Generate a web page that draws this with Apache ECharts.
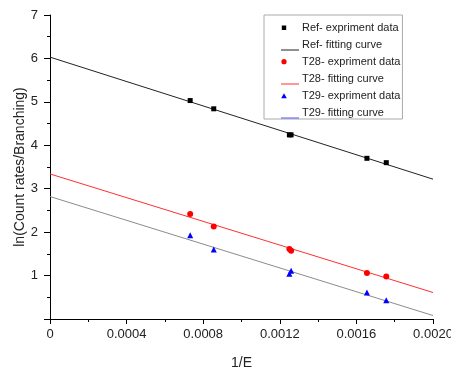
<!DOCTYPE html>
<html>
<head>
<meta charset="utf-8">
<script src="https://cdn.jsdelivr.net/npm/echarts@6/dist/echarts.min.js"></script>
<style>html,body{margin:0;padding:0;background:#fff}#c{width:451px;height:371px}</style>
</head>
<body>
<div id="c"></div>
<script>
// Data
const invE = [0.000732, 0.000855, 0.001250, 0.001259, 0.001655, 0.001756];
const refData = [5.03, 4.84, 4.24, 4.24, 3.70, 3.60];
const t28Data = [2.42, 2.13, 1.61, 1.57, 1.06, 0.98];
const t29Data = [1.93, 1.60, 1.04, 1.11, 0.61, 0.43];
const fitX = [0, 0.002];
const refFit = [6.03, 3.22];
const t28Fit = [3.34, 0.61];
const t29Fit = [2.82, 0.08];
const xTicks = ['0', '0.0004', '0.0008', '0.0012', '0.0016', '0.0020'];
const yTicks = ['', '1', '2', '3', '4', '5', '6', '7'];
const names = ['Ref- expriment data', 'Ref- fitting curve', 'T28- expriment data', 'T28- fitting curve', 'T29- expriment data', 'T29- fitting curve'];

const pair = (xs, ys) => xs.map((x, i) => [x, ys[i]]);
const font = 'Liberation Sans, Arial, sans-serif';

const iconSquare = 'path://M0,0L0,0Z M0.8,3.5L5.2,3.5L5.2,7.9L0.8,7.9Z M18,12L18,12Z';
const iconCircle = 'path://M0,0L0,0Z M5.6,5.7A2.6,2.6 0 1 1 0.4,5.7A2.6,2.6 0 1 1 5.6,5.7Z M18,12L18,12Z';
const iconTri = 'path://M0,0L0,0Z M3,3.2L5.8,8.2L0.2,8.2Z M18,12L18,12Z';
const iconLine = 'path://M0,0L0,0Z M0,10.5L18,10.5L18,11.6L0,11.6Z M18,12L18,12Z';

const chart = echarts.init(document.getElementById('c'), null, {renderer: 'canvas'});
chart.setOption({
  animation: false,
  backgroundColor: '#fff',
  textStyle: {fontFamily: font},
  grid: {left: 50, right: 18, top: 15, bottom: 52, containLabel: false, outerBoundsMode: 'none'},
  legend: {
    orient: 'vertical',
    left: 264, top: 15,
    padding: [7, 2, 0, 17],
    itemWidth: 18, itemHeight: 12, itemGap: 5,
    borderColor: '#aaa', borderWidth: 1,
    textStyle: {fontSize: 11, color: '#222', fontFamily: font, padding: [0, 0, 0, -2]},
    data: [
      {name: names[0], icon: iconSquare, itemStyle: {color: '#000', borderWidth: 0}},
      {name: names[1], icon: iconLine, itemStyle: {color: '#222', borderWidth: 0}},
      {name: names[2], icon: iconCircle, itemStyle: {color: '#ff0000', borderWidth: 0}},
      {name: names[3], icon: iconLine, itemStyle: {color: '#ff3030', borderWidth: 0}},
      {name: names[4], icon: iconTri, itemStyle: {color: '#0000ff', borderWidth: 0}},
      {name: names[5], icon: iconLine, itemStyle: {color: '#5555ff', borderWidth: 0}}
    ]
  },
  xAxis: {
    type: 'value', min: 0, max: 0.002, interval: 0.0004,
    name: '1/E', nameLocation: 'middle', nameGap: 37, nameMoveOverlap: false,
    nameTextStyle: {fontSize: 14, color: '#222', fontFamily: font},
    axisLine: {onZero: false, lineStyle: {color: '#000', width: 1}},
    axisTick: {show: true, inside: false, length: 5, lineStyle: {color: '#000'}},
    minorTick: {show: true, splitNumber: 2, length: 3, lineStyle: {color: '#000'}},
    splitLine: {show: false},
    axisLabel: {fontSize: 13, color: '#222', margin: 9, fontFamily: font,
      formatter: v => xTicks[Math.round(v / 0.0004)]}
  },
  yAxis: {
    type: 'value', min: 0, max: 7, interval: 1,
    name: 'ln(Count rates/Branching)', nameLocation: 'middle', nameGap: 23, nameMoveOverlap: false,
    nameTextStyle: {fontSize: 14, color: '#222', fontFamily: font},
    axisLine: {show: true, onZero: false, lineStyle: {color: '#000', width: 1}},
    axisTick: {show: true, inside: false, length: 6, lineStyle: {color: '#000'}},
    minorTick: {show: true, splitNumber: 2, length: 3, lineStyle: {color: '#000'}},
    splitLine: {show: false},
    axisLabel: {fontSize: 13, color: '#222', margin: 12, fontFamily: font,
      formatter: v => yTicks[Math.round(v)]}
  },
  series: [
    {name: names[1], type: 'line', data: pair(fitX, refFit), showSymbol: false, symbol: 'none',
      lineStyle: {color: '#222', width: 1}, itemStyle: {color: '#222'}, z: 2},
    {name: names[3], type: 'line', data: pair(fitX, t28Fit), showSymbol: false, symbol: 'none',
      lineStyle: {color: '#ff3030', width: 1}, itemStyle: {color: '#ff3030'}, z: 2},
    {name: names[5], type: 'line', data: pair(fitX, t29Fit), showSymbol: false, symbol: 'none',
      lineStyle: {color: '#8c8c8c', width: 1}, itemStyle: {color: '#8c8c8c'}, z: 2},
    {name: names[0], type: 'scatter', data: pair(invE, refData), symbol: 'rect', symbolSize: 5,
      itemStyle: {color: '#000', opacity: 1}, z: 3},
    {name: names[2], type: 'scatter', data: pair(invE, t28Data), symbol: 'circle', symbolSize: 6,
      itemStyle: {color: '#ff0000', opacity: 1}, z: 3},
    {name: names[4], type: 'scatter', data: pair(invE, t29Data), symbol: 'triangle', symbolSize: 6,
      itemStyle: {color: '#0000ff', opacity: 1}, z: 3}
  ]
});
</script>
</body>
</html>
